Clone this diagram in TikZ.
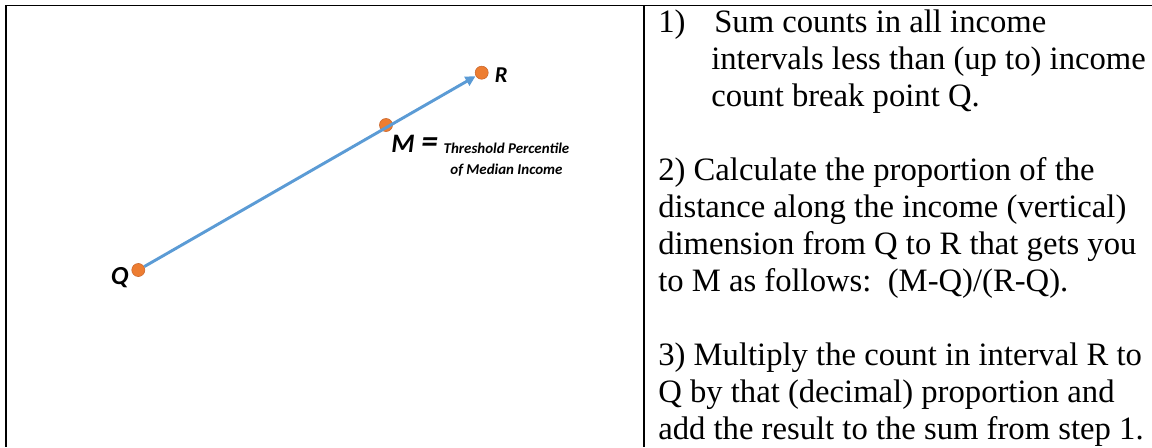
\documentclass[tikz,border=0pt]{standalone}
\usepackage{fontspec}
\setmainfont{Liberation Serif}
\newfontfamily\calfont{Carlito}
\usetikzlibrary{arrows.meta}
\definecolor{dotorange}{HTML}{ED7D31}
\definecolor{dotedge}{HTML}{C8642A}
\definecolor{linkblue}{HTML}{5B9BD5}
\tikzset{
  rule/.style={draw=black, line width=1.5pt},
  txt/.style={anchor=base west, inner sep=0pt, font=\fontsize{24.5pt}{28pt}\selectfont},
  pt/.style={circle, fill=dotorange, draw=dotedge, line width=0.4pt, minimum size=9.8pt, inner sep=0pt},
  lbl/.style={anchor=base west, inner sep=0pt, font=\calfont\bfseries\itshape\fontsize{17pt}{18pt}\selectfont},
  link/.style={draw=linkblue, line width=2.2pt, -{Triangle[length=7.5pt,width=7.5pt]}, shorten >=0.3pt}
}
\begin{document}
\begin{tikzpicture}[x=0.75pt,y=-0.75pt]
\useasboundingbox (0,0) rectangle (1152,447);
% table rules
\coordinate (tl) at (5,5.5);
\coordinate (tr) at (1152,5.5);
\coordinate (lt) at (6,5);
\coordinate (bl) at (6,447);
\coordinate (tm) at (643.5,5.5);
\coordinate (bm) at (643.5,447);
\draw[rule, line width=1.1pt] (tl) -- (tr);
\draw[rule] (lt) -- (bl);
\draw[rule] (tm) -- (bm);
% points
\node[pt] (Q) at (138.3,270) {};
\node[pt] (M) at (386,125) {};
\node[pt] (R) at (481.7,72.7) {};
\draw[link] (Q) -- (R);
\node[lbl] (Rl) at (494.5,82.5) {R};
\node[lbl, font=\calfont\bfseries\itshape\fontsize{19.5pt}{20pt}\selectfont] (Ql) at (110.5,284.5) {Q};
\node[lbl, font=\calfont\bfseries\itshape\fontsize{20pt}{20pt}\selectfont] (Ml) at (391,152) {M};
\node[lbl, font=\calfont\bfseries\itshape\fontsize{25pt}{25pt}\selectfont] (Meq) at (421,152) {=};
\node[inner sep=0pt, align=center, anchor=base, font=\calfont\bfseries\itshape\fontsize{11.2pt}{15.75pt}\selectfont] (Mdef) at (506.5,174) {Threshold Percentile\\of Median Income};
% steps
\node[txt] (s1n) at (658,32) {1)};
\node[txt] (s1a) at (714,32) {Sum counts in all income};
\node[txt] (s1b) at (711,69) {intervals less than (up to) income};
\node[txt] (s1c) at (711,106) {count break point Q.};
\node[txt] (s2a) at (658,180) {2) Calculate the proportion of the};
\node[txt] (s2b) at (658,217) {distance along the income (vertical)};
\node[txt] (s2c) at (658,254) {dimension from Q to R that gets you};
\node[txt] (s2d) at (658,291) {to M as follows:\ \ (M-Q)/(R-Q).};
\node[txt] (s3a) at (658,365) {3) Multiply the count in interval R to};
\node[txt] (s3b) at (658,402) {Q by that (decimal) proportion and};
\node[txt] (s3c) at (658,439) {add the result to the sum from step 1.};
\end{tikzpicture}
\end{document}
